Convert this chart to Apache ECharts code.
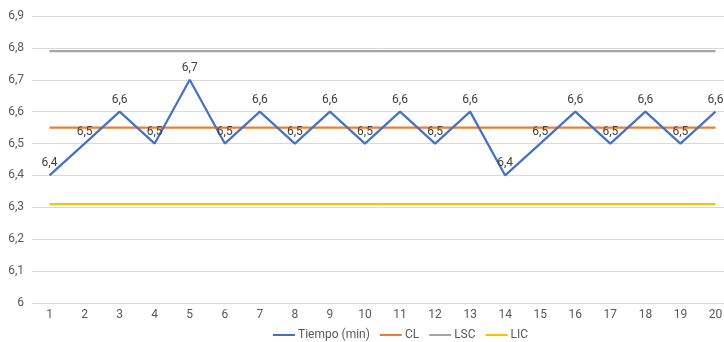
<!DOCTYPE html>
<html>
<head>
<meta charset="utf-8">
<script src="https://cdn.jsdelivr.net/npm/echarts@6/dist/echarts.min.js"></script>
<style>
  html, body { margin: 0; padding: 0; background: #fff; overflow: hidden; }
  /* the plot area runs a little past the right edge of the window */
  #chart { width: 733px; height: 342px; }
</style>
</head>
<body>
<div id="chart"></div>
<script>
// Muestras 1..20
const categories = ['1','2','3','4','5','6','7','8','9','10','11','12','13','14','15','16','17','18','19','20'];
// Tiempo medido en cada muestra (min)
const tiempo = [6.4, 6.5, 6.6, 6.5, 6.7, 6.5, 6.6, 6.5, 6.6, 6.5, 6.6, 6.5, 6.6, 6.4, 6.5, 6.6, 6.5, 6.6, 6.5, 6.6];
// Límites de control
const clValue = 6.55;
const lscValue = 6.79;
const licValue = 6.31;
const yTicks = { min: 6, max: 6.9, step: 0.1 };

const fmt = v => String(Math.round(v * 10) / 10).replace('.', ',');
const constLine = v => categories.map(() => v);

const chart = echarts.init(document.getElementById('chart'));
const baseFont = 'Roboto, "Liberation Sans", sans-serif';

chart.setOption({
  animation: false,
  textStyle: { fontFamily: baseFont },
  grid: { left: 32, right: 0, top: 16, bottom: 39, containLabel: false },
  legend: {
    left: 268, top: 324,
    itemWidth: 22, itemHeight: 10, itemGap: 10,
    icon: 'path://M0,4L22,4L22,6L0,6Z',
    textStyle: { color: '#595959', fontSize: 12, fontFamily: baseFont, padding: [0, 0, 0, -2] },
    data: [
      { name: 'Tiempo (min)', itemStyle: { color: '#4472C4', opacity: 1 } },
      'CL', 'LSC', 'LIC'
    ]
  },
  xAxis: {
    type: 'category',
    data: categories,
    boundaryGap: true,
    axisLine: { show: false },
    axisTick: { show: false },
    axisLabel: { color: '#595959', fontSize: 12, margin: 6 }
  },
  yAxis: {
    type: 'value',
    min: yTicks.min, max: yTicks.max, interval: yTicks.step,
    axisLine: { show: false },
    axisTick: { show: false },
    axisLabel: { color: '#595959', fontSize: 12, margin: 8, formatter: v => fmt(v) },
    splitLine: { lineStyle: { color: '#d9d9d9', width: 1 } }
  },
  series: [
    {
      name: 'Tiempo (min)', type: 'line', data: tiempo,
      symbol: 'circle', symbolSize: 0.01, showSymbol: true, z: 3,
      lineStyle: { color: '#4472C4', width: 2.25 },
      itemStyle: { color: '#4472C4' },
      label: {
        show: true, position: 'top', distance: 6,
        color: '#404040', fontSize: 12, fontFamily: baseFont,
        formatter: p => fmt(p.value)
      }
    },
    {
      name: 'CL', type: 'line', data: constLine(clValue),
      symbol: 'none', z: 2,
      lineStyle: { color: '#ED7D31', width: 2.25 },
      itemStyle: { color: '#ED7D31' }
    },
    {
      name: 'LSC', type: 'line', data: constLine(lscValue),
      symbol: 'none', z: 2,
      lineStyle: { color: '#A5A5A5', width: 2.25 },
      itemStyle: { color: '#A5A5A5' }
    },
    {
      name: 'LIC', type: 'line', data: constLine(licValue),
      symbol: 'none', z: 2,
      lineStyle: { color: '#FFC000', width: 2.25 },
      itemStyle: { color: '#FFC000' }
    }
  ]
});
</script>
</body>
</html>
